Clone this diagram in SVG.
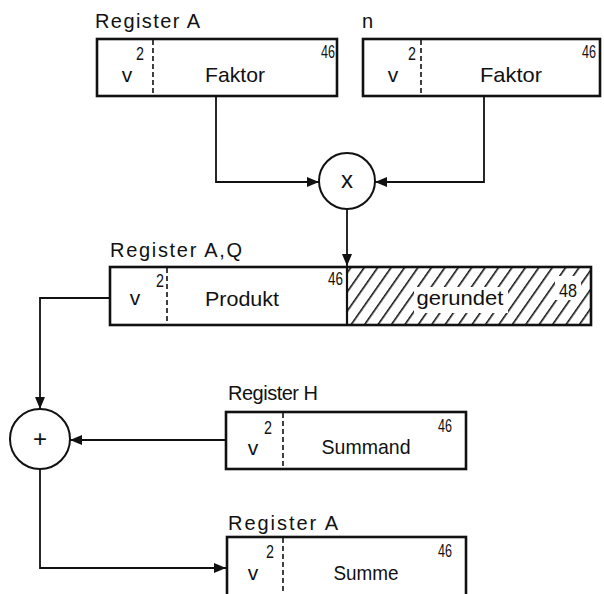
<svg xmlns="http://www.w3.org/2000/svg" width="604" height="594" viewBox="0 0 604 594">
<style>
.box{fill:none;stroke:#111;stroke-width:2.6}
.dash{stroke:#111;stroke-width:1.6;stroke-dasharray:5,3}
.con{fill:none;stroke:#111;stroke-width:1.8}
.op{fill:#fff;stroke:#111;stroke-width:2}
.lbl{font-family:"Liberation Sans",Arial,sans-serif;font-size:20px;fill:#111}
.txt{font-family:"Liberation Sans",Arial,sans-serif;font-size:21px;fill:#111;text-anchor:middle}
.num{font-family:"Liberation Sans",Arial,sans-serif;font-size:19px;fill:#111}
.sym{font-family:"Liberation Sans",Arial,sans-serif;font-size:24px;fill:#111;text-anchor:middle}
</style>
<defs>
<marker id="ah" viewBox="0 0 12 10" refX="12" refY="5" markerWidth="12" markerHeight="10" markerUnits="userSpaceOnUse" orient="auto">
<path d="M0,0 L12,5 L0,10 Z" fill="#111"/>
</marker>
<pattern id="hatch" width="11" height="11" patternUnits="userSpaceOnUse" patternTransform="rotate(35)">
<line x1="0.8" y1="0" x2="0.8" y2="11" stroke="#111" stroke-width="1.6"/>
</pattern>
</defs>
<rect width="604" height="594" fill="#fff"/>

<g id="regA1">
<text class="lbl" x="95" y="28" textLength="105" lengthAdjust="spacing">Register A</text>
<rect class="box" x="97" y="39" width="240" height="57"/>
<line class="dash" x1="153" y1="40" x2="153" y2="95"/>
<text class="num" x="136" y="60" textLength="8" lengthAdjust="spacingAndGlyphs">2</text>
<text class="num" x="321" y="58" textLength="14" lengthAdjust="spacingAndGlyphs">46</text>
<text class="txt" x="127" y="82">v</text>
<text class="txt" x="235" y="82" textLength="60" lengthAdjust="spacingAndGlyphs">Faktor</text>
</g>

<g id="regN">
<text class="lbl" x="362" y="28">n</text>
<rect class="box" x="363" y="39" width="237" height="57"/>
<line class="dash" x1="421" y1="40" x2="421" y2="95"/>
<text class="num" x="408" y="60" textLength="8" lengthAdjust="spacingAndGlyphs">2</text>
<text class="num" x="582" y="58" textLength="14" lengthAdjust="spacingAndGlyphs">46</text>
<text class="txt" x="393" y="82">v</text>
<text class="txt" x="511" y="82" textLength="62" lengthAdjust="spacingAndGlyphs">Faktor</text>
</g>

<g id="mul">
<circle class="op" cx="347" cy="181" r="28"/>
<text class="sym" x="347" y="188">x</text>
</g>

<g id="regAQ">
<text class="lbl" x="110" y="257" textLength="132" lengthAdjust="spacing">Register A,Q</text>
<rect x="347" y="267" width="244" height="58" fill="url(#hatch)"/>
<rect x="414" y="287" width="94" height="26" fill="#fff"/>
<rect x="555" y="276" width="26" height="24" fill="#fff"/>
<rect class="box" x="110" y="267" width="481" height="58"/>
<line x1="347" y1="267" x2="347" y2="325" stroke="#111" stroke-width="2.2"/>
<line class="dash" x1="167" y1="268" x2="167" y2="324"/>
<text class="num" x="156" y="287" textLength="8" lengthAdjust="spacingAndGlyphs">2</text>
<text class="num" x="328" y="285" textLength="15" lengthAdjust="spacingAndGlyphs">46</text>
<text class="num" x="559" y="297" textLength="18" lengthAdjust="spacingAndGlyphs">48</text>
<text class="txt" x="135" y="305">v</text>
<text class="txt" x="242" y="306" textLength="74" lengthAdjust="spacingAndGlyphs">Produkt</text>
<text class="txt" x="460" y="305" textLength="87" lengthAdjust="spacingAndGlyphs">gerundet</text>
</g>

<g id="add">
<circle class="op" cx="40" cy="439" r="30"/>
<text class="sym" x="40" y="447">+</text>
</g>

<g id="regH">
<text class="lbl" x="228" y="400" textLength="90" lengthAdjust="spacing">Register H</text>
<rect class="box" x="226" y="412" width="240" height="57"/>
<line class="dash" x1="283" y1="413" x2="283" y2="468"/>
<text class="num" x="264" y="434" textLength="8" lengthAdjust="spacingAndGlyphs">2</text>
<text class="num" x="438" y="432" textLength="14" lengthAdjust="spacingAndGlyphs">46</text>
<text class="txt" x="253" y="455">v</text>
<text class="txt" x="366" y="454" textLength="89" lengthAdjust="spacingAndGlyphs">Summand</text>
</g>

<g id="regA2">
<text class="lbl" x="228" y="530" textLength="110" lengthAdjust="spacing">Register  A</text>
<rect class="box" x="227" y="537" width="239" height="62"/>
<line class="dash" x1="283" y1="538" x2="283" y2="594"/>
<text class="num" x="266" y="558" textLength="8" lengthAdjust="spacingAndGlyphs">2</text>
<text class="num" x="438" y="557" textLength="14" lengthAdjust="spacingAndGlyphs">46</text>
<text class="txt" x="253" y="580">v</text>
<text class="txt" x="366" y="580" textLength="65" lengthAdjust="spacingAndGlyphs">Summe</text>
</g>

<g id="connectors">
<path class="con" d="M216,96 V182 H319" marker-end="url(#ah)"/>
<path class="con" d="M484,96 V182 H375" marker-end="url(#ah)"/>
<path class="con" d="M347,209 V266" marker-end="url(#ah)"/>
<path class="con" d="M110,298 H40 V409" marker-end="url(#ah)"/>
<path class="con" d="M226,440 H70" marker-end="url(#ah)"/>
<path class="con" d="M40,469 V568 H226" marker-end="url(#ah)"/>
</g>
</svg>
